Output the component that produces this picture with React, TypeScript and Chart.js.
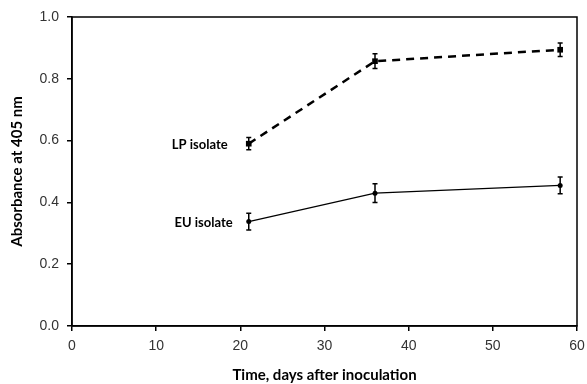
import React, { useEffect, useRef } from "react";
import { Chart, registerables } from "chart.js";
Chart.register(...registerables);

const days = [21, 36, 58];
const lpValues = [0.59, 0.857, 0.894];
const lpErrors = [0.02, 0.024, 0.022];
const euValues = [0.338, 0.43, 0.455];
const euErrors = [0.027, 0.03, 0.027];
const seriesLabels = ["LP isolate", "EU isolate"];
const xTicks = [0, 10, 20, 30, 40, 50, 60];
const yTicks = [0, 0.2, 0.4, 0.6, 0.8, 1.0];

const errorBarPlugin = {
  id: "errorBars",
  afterDatasetsDraw(chart: any) {
    const ctx = chart.ctx;
    const xs = chart.scales.x;
    const ys = chart.scales.y;
    const sets = [
      { v: lpValues, e: lpErrors },
      { v: euValues, e: euErrors },
    ];
    ctx.save();
    ctx.strokeStyle = "#000";
    ctx.lineWidth = 1.5;
    sets.forEach((s) => {
      days.forEach((d, i) => {
        const x = xs.getPixelForValue(d);
        const y1 = ys.getPixelForValue(s.v[i] + s.e[i]);
        const y2 = ys.getPixelForValue(s.v[i] - s.e[i]);
        ctx.beginPath();
        ctx.moveTo(x, y1);
        ctx.lineTo(x, y2);
        ctx.moveTo(x - 2.5, y1);
        ctx.lineTo(x + 2.5, y1);
        ctx.moveTo(x - 2.5, y2);
        ctx.lineTo(x + 2.5, y2);
        ctx.stroke();
      });
    });
    // series labels
    ctx.fillStyle = "#000";
    ctx.font = "bold 13px Lato";
    ctx.textAlign = "right";
    ctx.textBaseline = "middle";
    ctx.fillText(seriesLabels[0], xs.getPixelForValue(days[0]) - 21, ys.getPixelForValue(lpValues[0]) + 1);
    ctx.fillText(seriesLabels[1], xs.getPixelForValue(days[0]) - 16, ys.getPixelForValue(euValues[0]) + 1);
    // frame
    const a = chart.chartArea;
    ctx.lineWidth = 1.5;
    ctx.strokeRect(a.left, a.top, a.right - a.left, a.bottom - a.top);
    ctx.restore();
  },
};

export default function App() {
  const ref = useRef<HTMLCanvasElement>(null);
  useEffect(() => {
    const chart = new Chart(ref.current!, {
      type: "line",
      data: {
        datasets: [
          {
            label: seriesLabels[0],
            data: days.map((d, i) => ({ x: d, y: lpValues[i] })),
            borderColor: "#000",
            backgroundColor: "#000",
            borderWidth: 2.5,
            borderDash: [8, 6],
            pointStyle: "rect",
            pointRadius: 4,
            pointBorderWidth: 0,
          },
          {
            label: seriesLabels[1],
            data: days.map((d, i) => ({ x: d, y: euValues[i] })),
            borderColor: "#000",
            backgroundColor: "#000",
            borderWidth: 1.2,
            pointStyle: "circle",
            pointRadius: 2.5,
            pointBorderWidth: 0,
          },
        ],
      },
      options: {
        animation: false,
        responsive: false,
        maintainAspectRatio: false,
        layout: { padding: { top: 17, right: 10, left: 0, bottom: 0 } },
        plugins: { legend: { display: false }, tooltip: { enabled: false } },
        scales: {
          x: {
            type: "linear",
            min: 0,
            max: 60,
            afterBuildTicks: (s: any) => {
              s.ticks = xTicks.map((v) => ({ value: v }));
            },
            afterFit: (s: any) => {
              s.height = 58;
              s.paddingLeft = 0;
              s.paddingRight = 0;
            },
            grid: { drawOnChartArea: false, drawTicks: true, tickLength: 5, color: "#000", lineWidth: 1.5 },
            border: { display: true, color: "#000", width: 1.5 },
            ticks: { color: "#333", font: { family: "Liberation Sans", size: 14 }, padding: 7, maxRotation: 0 },
            title: {
              display: true,
              text: "Time, days after inoculation",
              color: "#000",
              font: { family: "Lato", size: 15, weight: "bold" },
              padding: { top: 1, bottom: 0 },
            },
          },
          y: {
            type: "linear",
            min: 0,
            max: 1,
            afterBuildTicks: (s: any) => {
              s.ticks = yTicks.map((v) => ({ value: v }));
            },
            afterFit: (s: any) => {
              s.width = 72;
              s.paddingTop = 0;
              s.paddingBottom = 0;
            },
            grid: { drawOnChartArea: false, drawTicks: true, tickLength: 5, color: "#000", lineWidth: 1.5 },
            border: { display: true, color: "#000", width: 1.5 },
            ticks: {
              color: "#333",
              font: { family: "Liberation Sans", size: 14 },
              padding: 8,
              callback: (v: any) => Number(v).toFixed(1),
            },
            title: {
              display: true,
              text: "Absorbance at 405 nm",
              color: "#000",
              font: { family: "Lato", size: 15, weight: "bold" },
              padding: { top: 8, bottom: 0 },
            },
          },
        },
      },
      plugins: [errorBarPlugin],
    });
    return () => chart.destroy();
  }, []);
  return (
    <div style={{ position: "fixed", left: 0, top: 0, width: 587, height: 384, background: "#fff" }}>
      <canvas ref={ref} width={587} height={384} style={{ display: "block" }} />
    </div>
  );
}
